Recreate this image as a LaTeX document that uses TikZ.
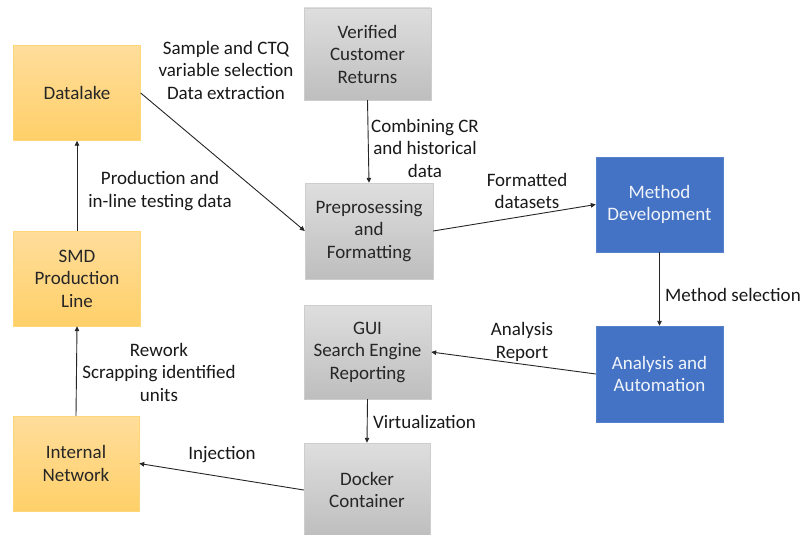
\documentclass[tikz,border=0pt]{standalone}
\usepackage{fontspec}
\setmainfont{Carlito}
\usetikzlibrary{arrows.meta}
\definecolor{orgtop}{RGB}{255,221,155}
\definecolor{orgbot}{RGB}{255,208,105}
\definecolor{orgline}{RGB}{255,214,120}
\definecolor{grytop}{RGB}{222,222,222}
\definecolor{grybot}{RGB}{190,190,190}
\definecolor{gryline}{RGB}{205,205,205}
\definecolor{blu}{RGB}{68,114,196}
\definecolor{bluline}{RGB}{85,130,205}
\definecolor{txt}{RGB}{38,38,38}
\tikzset{
  box/.style={rectangle, minimum width=127pt, minimum height=95pt, inner sep=2pt,
    align=center, font=\fontsize{19}{22.5}\selectfont, text=txt},
  orangebox/.style={box, draw=orgline, top color=orgtop, bottom color=orgbot},
  graybox/.style={box, draw=gryline, top color=grytop, bottom color=grybot},
  bluebox/.style={box, draw=bluline, fill=blu, text=white!92!blu},
  conn/.style={draw=black!85, line width=0.9pt, -{Triangle[length=5pt,width=4.5pt]}},
  lbl/.style={align=center, font=\fontsize{19}{22.5}\selectfont, text=black!90, inner sep=0pt}
}
\begin{document}
\begin{tikzpicture}[x=1pt,y=-1pt]
\useasboundingbox (0,0) rectangle (806,535);
\fill[white] (0,0) rectangle (806,535);
% boxes
\node[orangebox] (dl) at (77,93) {Datalake};
\node[orangebox] (smd) at (77,278.5) {SMD\\Production\\Line};
\node[orangebox, minimum width=126pt] (inet) at (76,463.5) {Internal\\Network};
\node[graybox, minimum height=92pt] (vcr) at (367.5,54) {Verified\\Customer\\Returns};
\node[graybox, minimum width=128pt, minimum height=96pt] (prep) at (369,231) {Preprosessing\\and\\Formatting};
\node[graybox, minimum height=94pt] (gui) at (367.5,352) {GUI\\Search Engine\\Reporting};
\node[graybox, minimum width=126pt, minimum height=94pt] (dock) at (367,490) {Docker\\Container};
\node[bluebox] (md) at (659.5,204.5) {Method\\Development};
\node[bluebox, minimum height=96pt] (aa) at (659.5,374) {Analysis and\\Automation};
% connectors
\draw[conn] (dl.east) -- (prep.west);
\draw[conn] (vcr.south) -- (prep.north);
\draw[conn] (prep.east) -- (md.west);
\draw[conn] (md.south) -- (aa.north);
\draw[conn] (aa.west) -- (gui.east);
\draw[conn] (gui.south) -- (dock.north);
\draw[conn] (dock.west) -- (inet.east);
\draw[conn] (inet.north) -- (smd.south);
\draw[conn] (smd.north) -- (dl.south);
% labels
\node[lbl] (l1) at (226,70) {Sample and CTQ\\variable selection\\Data extraction};
\node[lbl] (l2) at (425,148) {Combining CR\\and historical\\data};
\node[lbl] (l3) at (160,191) {Production and\\in-line testing data};
\node[lbl] (l4) at (527,191) {Formatted\\datasets};
\node[lbl, anchor=west] (l5) at (665,295) {Method selection};
\node[lbl] (l6) at (522,342) {Analysis\\Report};
\node[lbl] (l7) at (159,372) {Rework\\Scrapping identified\\units};
\node[lbl, anchor=west] (l8) at (373,422) {Virtualization};
\node[lbl] (l9) at (222,455) {Injection};
\end{tikzpicture}
\end{document}
